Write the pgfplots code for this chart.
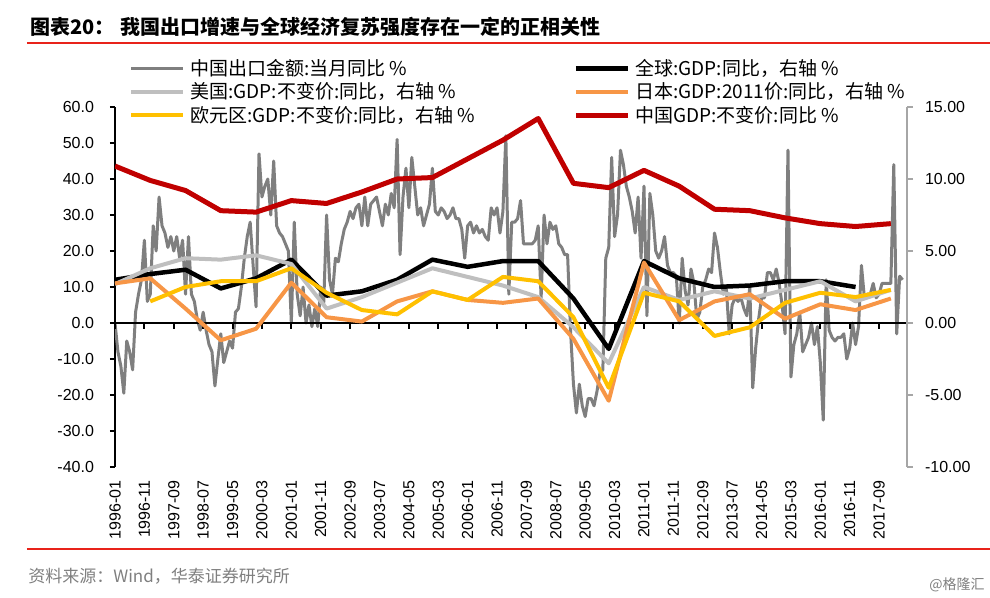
\documentclass[border=0pt]{standalone}
\usepackage{pgfplots}
\pgfplotsset{compat=1.18}
\usepackage{fontspec}
\setmainfont{Liberation Sans}
\newfontfamily\cjk{Noto Sans CJK SC}
\definecolor{cgray}{HTML}{7F7F7F}
\definecolor{clgray}{HTML}{BFBFBF}
\definecolor{corange}{HTML}{F79646}
\definecolor{cyellow}{HTML}{FFC000}
\definecolor{cred}{HTML}{C00000}
\definecolor{tred}{HTML}{E8231A}
\definecolor{axgray}{HTML}{A6A6A6}
\definecolor{srcgray}{HTML}{7F7F7F}
\begin{document}
\begin{tikzpicture}
\path[use as bounding box] (-57.5pt,-65.5pt) rectangle (437.5pt,233.5pt);
\pgfplotsset{
  common/.style={
    scale only axis, width=396pt, height=180pt,
    xmin=0, xmax=269.5,
    xtick={0,10,...,260},
    tick label style={font=\fontsize{8}{9.6}\selectfont},
    /pgf/number format/assume math mode=true,
    line join=round,
  }
}
\begin{axis}[common,
  ymin=-40, ymax=60, ytick={-40,-30,...,60},
  axis y line*=left, axis x line*=bottom,
  x axis line style={draw=none},
  y axis line style={black, line width=1pt, -},
  xtick style={draw=none},
  ytick style={black, line width=1pt},
  tick align=outside, major tick length=2.5pt,
  yticklabel style={xshift=-4.5pt, /pgf/number format/.cd, fixed, fixed zerofill, precision=1},
  xticklabel style={rotate=90, anchor=east, inner sep=0pt},
  xticklabel shift=4pt,
  xticklabels={1996-01,1996-11,1997-09,1998-07,1999-05,2000-03,2001-01,2001-11,2002-09,2003-07,2004-05,2005-03,2006-01,2006-11,2007-09,2008-07,2009-05,2010-03,2011-01,2011-11,2012-09,2013-07,2014-05,2015-03,2016-01,2016-11,2017-09},
]
\addplot[cgray, line width=1.5pt] coordinates {
(0,0) (1,-8) (2,-12) (3,-19.5) (4,-5) (5,-8) (6,-13) (7,3) (8,8) (9,12)
(10,23) (11,6) (12,8) (13,27) (14,20) (15,35) (16,27) (17,25) (18,21) (19,24)
(20,20) (21,24) (22,18) (23,23) (24,8) (25,24) (26,8) (27,6) (28,1) (29,-2)
(30,3) (31,-2) (32,-6) (33,-8) (34,-17.5) (35,-10) (36,-3) (37,-11) (38,-8) (39,-5)
(40,-7) (41,3) (42,4) (43,10) (44,18) (45,24) (46,28) (47,16) (48,4.5) (49,47)
(50,35) (51,38) (52,40) (53,30) (54,45) (55,27) (56,25) (57,24) (58,22) (59,20)
(60,0) (61,28) (62,8) (63,2) (64,10) (65,0) (66,5) (67,-1) (68,4) (69,-1)
(70,10) (71,5) (72,30) (73,12) (74,8) (75,18) (76,17) (77,22) (78,26) (79,28)
(80,31) (81,29) (82,32) (83,33) (84,27) (85,35) (86,27) (87,33) (88,34) (89,35)
(90,31) (91,27) (92,33) (93,30) (94,36) (95,32) (96,51) (97,19) (98,35) (99,43)
(100,32) (101,46) (102,38) (103,30) (104,32) (105,27) (106,30) (107,33) (108,43) (109,31)
(110,30) (111,32) (112,31) (113,29) (114,30) (115,32) (116,29) (117,29) (118,26) (119,18)
(120,27) (121,28) (122,25) (123,27) (124,25) (125,26) (126,24) (127,23) (128,32) (129,30)
(130,32) (131,25) (132,31) (133,52) (134,8) (135,28) (136,28) (137,29) (138,34) (139,22)
(140,22) (141,22) (142,22) (143,23) (144,27) (145,7) (146,30) (147,22) (148,28) (149,26)
(150,27) (151,22) (152,21) (153,19) (154,19) (155,-2) (156,-17) (157,-25) (158,-17) (159,-23)
(160,-26) (161,-21) (162,-21) (163,-23) (164,-19) (165,-14) (166,-13) (167,18) (168,21) (169,46)
(170,24) (171,30) (172,48) (173,44) (174,38) (175,35) (176,31) (177,25) (178,35) (179,18)
(180,38) (181,2) (182,36) (183,30) (184,20) (185,18) (186,20) (187,24) (188,16) (189,14)
(190,14) (191,13) (192,0) (193,18) (194,9) (195,5) (196,15) (197,11) (198,1) (199,3)
(200,10) (201,12) (202,15) (203,14) (204,25) (205,21) (206,14) (207,8) (208,10) (209,-3)
(210,5) (211,7) (212,6) (213,7) (214,4) (215,2) (216,10) (217,-18) (218,-7) (219,1)
(220,7) (221,7) (222,14) (223,14) (224,12) (225,15) (226,11) (227,5) (228,-3) (229,48)
(230,-15) (231,-6) (232,-3) (233,3) (234,-8) (235,-6) (236,-4) (237,0) (238,-6) (239,-1)
(240,-11) (241,-27) (242,12) (243,-2) (244,-4) (245,-5) (246,-4) (247,-4) (248,-3) (249,-10)
(250,-7) (251,0) (252,-6) (253,-1) (254,16) (255,7) (256,8) (257,8) (258,11) (259,7)
(260,8) (261,11) (262,11) (263,11) (264,11) (265,44) (266,-3) (267,13) (268,12)
};
\end{axis}
\begin{axis}[common,
  ymin=-10, ymax=15, ytick={-10,-5,...,15},
  axis y line*=right, axis x line*=middle,
  y axis line style={axgray, line width=1pt, -},
  x axis line style={black, line width=1.2pt, -},
  xticklabels={},
  ytick style={axgray, line width=1pt},
  xtick style={black, line width=1pt, yshift=-1.5pt},
  ytick align=outside, xtick align=center, major tick length=3pt,
  yticklabel style={xshift=2.5pt, /pgf/number format/.cd, fixed, fixed zerofill, precision=2},
  legend columns=2,
  legend cell align=left,
  legend image code/.code={\draw[#1] (0pt,0pt) -- (26pt,0pt);},
  legend style={draw=none, fill=none, at={(0.0177,1.136)}, anchor=north west,
    inner sep=0pt, row sep=1.75pt, column sep=0pt,
    font=\cjk\fontsize{9.5}{11.4}\selectfont,
    nodes={inner sep=0pt, text height=8.3pt, text depth=1.7pt},
    /tikz/every odd column/.append style={column sep=2.5pt}},
]
\addlegendimage{cgray, line width=1.5pt}
\addlegendentry{\makebox[191.5pt][l]{中国出口金额:当月同比 \%}}
\addplot[black, line width=2.25pt] coordinates {
(0,3.0) (12,3.4) (24,3.7) (36,2.4) (48,3.1) (60,4.4) (72,1.9) (84,2.2) (96,3.0) (108,4.4)
(120,3.9) (132,4.3) (144,4.3) (156,1.7) (168,-1.8) (180,4.3) (192,3.1) (204,2.5) (216,2.6) (228,2.9)
(240,2.9) (252,2.5)
};
\addlegendentry{全球:GDP:同比，右轴 \%}
\addplot[clgray, line width=2pt] coordinates {
(0,2.7) (12,3.8) (24,4.5) (36,4.4) (48,4.7) (60,4.1) (72,1.0) (84,1.8) (96,2.8) (108,3.8)
(120,3.2) (132,2.6) (144,1.8) (156,-0.3) (168,-2.8) (180,2.5) (192,1.6) (204,2.2) (216,1.7) (228,2.3)
(240,2.9) (252,1.5) (264,2.3)
};
\addlegendentry{\makebox[191.5pt][l]{美国:GDP:不变价:同比，右轴 \%}}
\addplot[corange, line width=2pt] coordinates {
(0,2.75) (12,3.1) (24,1.0) (36,-1.2) (48,-0.4) (60,2.8) (72,0.4) (84,0.1) (96,1.5) (108,2.2)
(120,1.6) (132,1.4) (144,1.7) (156,-1.1) (168,-5.4) (180,4.2) (192,0.2) (204,1.5) (216,2.0) (228,0.3)
(240,1.3) (252,0.9) (264,1.7)
};
\addlegendentry{日本:GDP:2011价:同比，右轴 \%}
\addplot[cyellow, line width=2pt] coordinates {
(12,1.5) (24,2.5) (36,2.9) (48,2.9) (60,3.8) (72,2.1) (84,0.9) (96,0.6) (108,2.2)
(120,1.6) (132,3.2) (144,2.9) (156,0.4) (168,-4.5) (180,2.1) (192,1.5) (204,-0.9) (216,-0.3) (228,1.4)
(240,2.1) (252,1.8) (264,2.3)
};
\addlegendentry{\makebox[191.5pt][l]{欧元区:GDP:不变价:同比，右轴 \%}}
\addplot[cred, line width=2.5pt] coordinates {
(0,10.9) (12,9.9) (24,9.2) (36,7.8) (48,7.7) (60,8.5) (72,8.3) (84,9.1) (96,10.0) (108,10.1)
(120,11.4) (132,12.7) (144,14.2) (156,9.7) (168,9.4) (180,10.6) (192,9.5) (204,7.9) (216,7.8) (228,7.3)
(240,6.9) (252,6.7) (264,6.9)
};
\addlegendentry{中国GDP:不变价:同比 \%}
\end{axis}
\node[anchor=west, inner sep=0pt, font=\cjk\bfseries\fontsize{10}{12}\selectfont] at (-42.5pt,220pt) {图表20：\hspace{0.3em}我国出口增速与全球经济复苏强度存在一定的正相关性};
\draw[tred, line width=1pt] (-44pt,212pt) -- (437.5pt,212pt);
\draw[tred, line width=1pt] (-44pt,-41pt) -- (437.5pt,-41pt);
\node[anchor=west, inner sep=0pt, text=srcgray, font=\cjk\fontsize{8.5}{10}\selectfont] at (-43.5pt,-54.5pt) {资料来源：Wind，华泰证券研究所};
\node[anchor=east, inner sep=0pt, text=srcgray, font=\cjk\fontsize{7}{8}\selectfont] at (435pt,-59pt) {@格隆汇};
\end{tikzpicture}
\end{document}
